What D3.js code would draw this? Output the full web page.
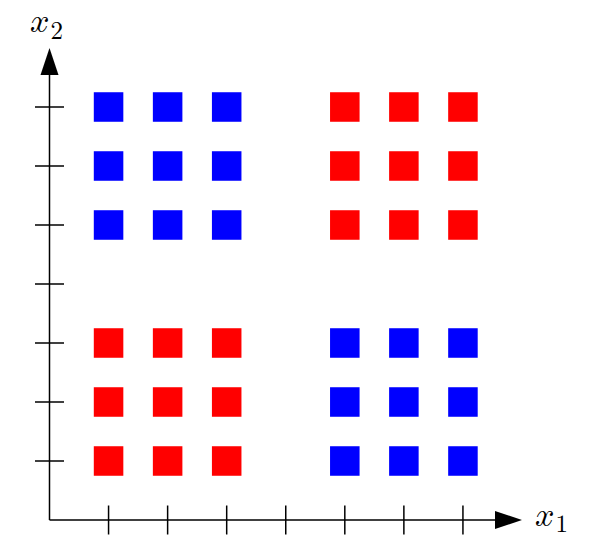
<!DOCTYPE html>
<html>
<head>
<meta charset="utf-8">
<script src="https://cdn.jsdelivr.net/npm/d3@7"></script>
<style>
html,body{margin:0;padding:0;background:#fff;}
</style>
</head>
<body>
<svg id="chart" width="600" height="550"></svg>
<script>
// Data
const xTicks = [1, 2, 3, 4, 5, 6, 7];
const yTicks = [1, 2, 3, 4, 5, 6, 7];
// clusters: each cluster as x values, y values, colour
const clusters = [
  {xs: [1, 2, 3], ys: [5, 6, 7], color: "#0000ff"},
  {xs: [5, 6, 7], ys: [5, 6, 7], color: "#ff0000"},
  {xs: [1, 2, 3], ys: [1, 2, 3], color: "#ff0000"},
  {xs: [5, 6, 7], ys: [1, 2, 3], color: "#0000ff"}
];
const squareSize = 0.5;
const axisLabels = {x: ["\u{1D465}", "1"], y: ["\u{1D465}", "2"]};

const svg = d3.select("#chart");
const x = d3.scaleLinear().domain([0, 8]).range([49.5, 522]);
const y = d3.scaleLinear().domain([0, 8]).range([520, 48]);

// points
const pts = [];
clusters.forEach(c => c.xs.forEach(xi => c.ys.forEach(yi => pts.push({x: xi, y: yi, color: c.color}))));
const w = x(squareSize) - x(0);
svg.append("g").selectAll("rect").data(pts).join("rect")
  .attr("x", d => x(d.x) - w / 2)
  .attr("y", d => y(d.y) - w / 2)
  .attr("width", w)
  .attr("height", w)
  .attr("fill", d => d.color);

const g = svg.append("g").attr("stroke", "#000").attr("stroke-width", 1.5).attr("fill", "none");
// axes lines
g.append("line").attr("x1", x(0)).attr("y1", y(0)).attr("x2", x(7.56)).attr("y2", y(0));
g.append("line").attr("x1", x(0)).attr("y1", y(0)).attr("x2", x(0)).attr("y2", y(7.56));
// ticks
const tl = 14.5;
g.selectAll(".xt").data(xTicks).join("line")
  .attr("x1", d => x(d)).attr("x2", d => x(d))
  .attr("y1", y(0) - tl).attr("y2", y(0) + tl);
g.selectAll(".yt").data(yTicks).join("line")
  .attr("y1", d => y(d)).attr("y2", d => y(d))
  .attr("x1", x(0) - tl).attr("x2", x(0) + tl);

// arrows
const ax = x(8), ay = y(0);
svg.append("path")
  .attr("d", `M${ax},${ay} L${ax - 27},${ay - 9} L${ax - 27},${ay + 9} Z`)
  .attr("fill", "#000");
const bx = x(0), by = y(8);
svg.append("path")
  .attr("d", `M${bx},${by} L${bx - 9},${by + 27} L${bx + 9},${by + 27} Z`)
  .attr("fill", "#000");

// labels
function label(px, py, parts, sdy) {
  const t = svg.append("text").attr("x", px).attr("y", py)
    .style("font-family", "'Latin Modern Math', 'Liberation Serif', serif")
    .attr("fill", "#000");
  t.append("tspan").style("font-size", "34px").text(parts[0]);
  t.append("tspan").style("font-size", "25px").attr("dy", sdy).attr("dx", 1).text(parts[1]);
}
label(535, 526, axisLabels.x, 6);
label(30, 32, axisLabels.y, 7);
</script>
</body>
</html>
